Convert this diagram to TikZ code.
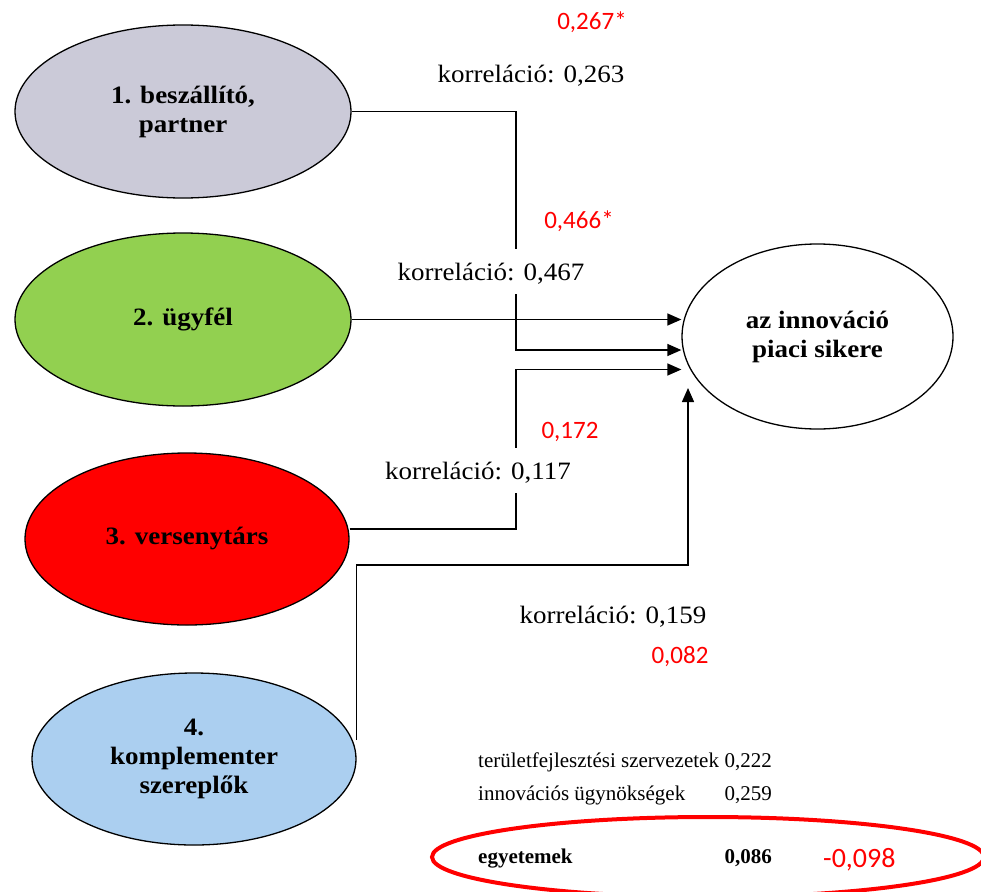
\documentclass[tikz,border=0pt]{standalone}
\usepackage{fontspec}
\setmainfont{Liberation Serif}
\newfontfamily\labelfont[FakeStretch=1.08]{Liberation Serif}
\newfontfamily\numfont{Carlito}
\usetikzlibrary{shapes.geometric,arrows.meta}

\definecolor{suppliergray}{RGB}{203,202,216}
\definecolor{clientgreen}{RGB}{146,208,80}
\definecolor{rivalred}{RGB}{255,0,0}
\definecolor{partnerblue}{RGB}{171,207,240}

\begin{document}
\begin{tikzpicture}[x=1pt,y=-1pt,
  actor/.style={ellipse,draw=black,line width=1.3pt,inner sep=0pt,align=center,
    font=\labelfont\bfseries\fontsize{25}{29}\selectfont},
  arr/.style={line width=1.4pt,-{Triangle[length=14pt,width=12pt]}},
  corr/.style={anchor=base,inner sep=0pt,font=\labelfont\fontsize{25}{29}\selectfont},
  gapbox/.style={fill=white,text height=24pt,text depth=7pt,inner ysep=7pt,inner xsep=2pt},
  coef/.style={anchor=base,inner sep=0pt,text=rivalred,font=\numfont\fontsize{25}{30}\selectfont},
  tabrow/.style={inner sep=0pt,font=\fontsize{21}{25}\selectfont},
  tabbold/.style={inner sep=0pt,font=\bfseries\fontsize{21}{25}\selectfont},
  highlight/.style={ellipse,draw=rivalred,line width=4pt,inner sep=0pt}
]
\fill[white] (0,0) rectangle (981,891);
\useasboundingbox (0,0) rectangle (981,891);

% actors and the outcome
\node[actor,fill=suppliergray,minimum width=336pt,minimum height=173pt] (e1) at (183,111.5) {1. beszállító,\\partner};
\node[actor,fill=clientgreen,minimum width=336pt,minimum height=173pt] (e2) at (183,319.5) {2. ügyfél};
\node[actor,fill=rivalred,minimum width=324pt,minimum height=172pt] (e3) at (187,539) {3. versenytárs};
\node[actor,fill=partnerblue,minimum width=324pt,minimum height=172pt] (e4) at (194,759) {4.\\komplementer\\szereplők};
\node[actor,fill=white,minimum width=271pt,minimum height=185pt] (t) at (817.5,336.5) {az innováció\\piaci sikere};

% bend points and arrow ends
\coordinate (b1) at (516,350);
\coordinate (a1) at ([yshift=-13.5pt]t.west);
\coordinate (b3) at (516,369.5);
\coordinate (a3) at ([yshift=-33pt]t.west);
\coordinate (k4) at (688,565);
\coordinate (a4) at (688,388);

% connectors
\draw[arr] (e1.east) -| (b1) -- (a1);
\draw[arr] (e2.east) -- (e2.east -| t.west);
\draw[arr] ([yshift=10pt]e3.east) -| (b3) -- (a3);
\draw[arr] ([yshift=19pt]e4.east) |- (k4) -- (a4);

% correlations
\node[corr] (c1) at (531,82) {korreláció: 0,263};
\node[corr,gapbox] (c2) at (491,280) {korreláció: 0,467};
\node[corr,gapbox] (c3) at (478,479) {korreláció: 0,117};
\node[corr] (c4) at (613,623) {korreláció: 0,159};

% coefficients
\node[coef] (p1) at (592,30) {0,267*};
\node[coef] (p2) at (579,228) {0,466*};
\node[coef] (p3) at (570,438) {0,172};
\node[coef] (p4) at (680,663) {0,082};

% institutional partners
\node[tabrow,anchor=base west] (r1) at (478,767) {területfejlesztési szervezetek};
\node[tabrow,anchor=base east] (v1) at (772,767) {0,222};
\node[tabrow,anchor=base west] (r2) at (478,800) {innovációs ügynökségek};
\node[tabrow,anchor=base east] (v2) at (772,800) {0,259};
\node[tabbold,anchor=base west] (r3) at (478,863) {egyetemek};
\node[tabbold,anchor=base east] (v3) at (772,863) {0,086};
\node[coef,anchor=base west,font=\numfont\fontsize{28}{32}\selectfont] (w3) at (823,867) {-0,098};
\node[highlight,minimum width=552pt,minimum height=80pt] (hl) at (708,857) {};
\end{tikzpicture}
\end{document}
